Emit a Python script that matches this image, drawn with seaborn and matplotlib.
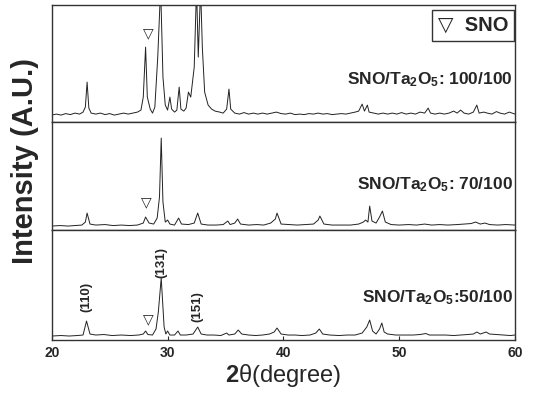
import numpy as np
import pandas as pd
import matplotlib
matplotlib.use('Agg')
import matplotlib.pyplot as plt
import seaborn as sns

# XRD traces (2-theta in degrees, intensity as pixel rise above baseline)
tt_100 = [20, 20.4, 20.8, 21.2, 21.6, 22, 22.4, 22.7, 22.9, 23.05, 23.2, 23.4, 23.8, 24.2, 24.6, 25, 25.4,
          25.8, 26.2, 26.6, 27, 27.4, 27.7, 27.9, 28.1, 28.25, 28.5, 28.7, 28.9, 29.15, 29.4, 29.6, 29.8,
          30.0, 30.2, 30.35, 30.6, 30.8, 31.0, 31.15, 31.4, 31.6, 31.8, 32.0, 32.3, 32.5, 32.65, 32.85,
          33.0, 33.2, 33.5, 33.8, 34.1, 34.5, 34.8, 35.1, 35.3, 35.45, 35.8, 36.2, 36.6, 37, 37.4, 37.8,
          38.2, 38.6, 39, 39.4, 39.8, 40.2, 40.6, 41, 41.4, 41.8, 42.2, 42.6, 43, 43.4, 43.8, 44.2, 44.6,
          45, 45.4, 45.8, 46.2, 46.5, 46.8, 47.0, 47.25, 47.4, 47.8, 48.2, 48.6, 49, 49.4, 49.8, 50.2,
          50.6, 51, 51.4, 51.8, 52.2, 52.5, 52.7, 53.1, 53.5, 53.9, 54.3, 54.7, 55, 55.3, 55.6, 56, 56.4,
          56.7, 56.9, 57.3, 57.6, 58, 58.4, 58.7, 59.1, 59.5, 60]
int_100 = [2, 3, 2, 3.5, 2.5, 4, 3, 5, 10, 35, 9, 4, 3, 4, 2.5, 3.5, 2,
           3, 4, 3, 4, 5, 7, 20, 70, 20, 8, 4, 10, 60, 130, 40, 12,
           7, 20, 8, 5, 7, 30, 8, 6, 9, 25, 20, 50, 130, 60, 130,
           70, 25, 12, 8, 6, 5, 4, 8, 28, 8, 4, 3, 4.5, 3, 4, 3,
           4, 3, 4, 5, 3.5, 3, 4, 2.5, 3, 2.5, 3.5, 3, 4, 3, 3.5, 2.5, 3,
           3.5, 3, 4, 5, 6, 13, 6, 12, 5, 4, 3, 4, 3, 4, 3, 4.5,
           3, 4, 3, 5, 4, 9, 4, 3, 4, 3, 4, 6, 4, 7, 4, 3, 5,
           12, 4, 5, 4, 3, 5.5, 4, 3, 5, 3]

tt_70 = [20, 20.7, 21.4, 22, 22.6, 22.9, 23.05, 23.3, 23.8, 24.6, 25.3, 26, 26.7, 27.4, 27.9, 28.1, 28.4,
         28.8, 29.1, 29.3, 29.45, 29.6, 29.8, 30.0, 30.2, 30.6, 30.95, 31.2, 31.8, 32.3, 32.6, 32.9, 33.5,
         34.2, 34.8, 35.2, 35.4, 35.8, 36.05, 36.3, 37, 37.7, 38.3, 38.9, 39.3, 39.45, 39.8, 40.5, 41.2,
         41.9, 42.6, 43.0, 43.15, 43.5, 44.2, 45, 45.8, 46.5, 46.9, 47.1, 47.3, 47.45, 47.65, 48.0, 48.3,
         48.55, 48.8, 49.3, 50, 50.8, 51.5, 52.2, 52.8, 53.5, 54.2, 55, 55.6, 56.2, 56.6, 57, 57.4, 57.8,
         58.5, 59.2, 60]
int_70 = [1, 1.5, 1, 1.5, 2, 5, 14, 3, 2, 2.5, 1.5, 2, 1.5, 2, 4, 10, 4,
          3, 9, 30, 89, 25, 5, 7, 3, 2, 9, 3, 2.5, 4, 14, 3, 2,
          2, 2.5, 6, 2.5, 4, 8, 3, 2, 2.5, 2, 4, 8, 14, 3, 2.5, 2,
          2.5, 3, 7, 11, 3, 2, 2, 2, 3, 5, 7, 5, 21, 6, 4, 10,
          16, 5, 2.5, 2, 2.5, 2, 3, 2, 2.5, 2, 2.5, 3, 3.5, 5, 3, 4, 2.5,
          2, 2.5, 2]

tt_50 = [20.0, 20.8, 21.5, 22.2, 22.7, 23.0, 23.3, 23.8, 24.5, 25.2, 26, 26.8, 27.5, 27.9, 28.1, 28.3,
         28.7, 29.0, 29.2, 29.45, 29.7, 29.85, 30.0, 30.2, 30.6, 30.9, 31.1, 31.6, 32.2, 32.6, 32.9, 33.4,
         34, 34.6, 35.1, 35.3, 35.8, 36.1, 36.4, 37, 37.6, 38.2, 38.8, 39.2, 39.45, 39.8, 40.4, 41, 41.6,
         42.3, 42.8, 43.1, 43.4, 44, 44.8, 45.5, 46.2, 46.8, 47.2, 47.45, 47.7, 48.0, 48.3, 48.5, 48.7,
         49, 49.7, 50.4, 51.2, 51.8, 52.3, 52.6, 53.3, 54, 54.7, 55.3, 55.9, 56.4, 56.7, 57.0, 57.5, 57.8,
         58.4, 59, 59.6, 60]
int_50 = [1, 1.5, 1, 1.5, 2, 16, 3, 2, 2.5, 1.5, 2, 1.5, 2, 3, 6, 2.5,
          2, 8, 25, 59, 10, 3, 6, 2, 2, 6, 2, 2, 3, 10, 3, 2,
          2, 1.5, 4, 2, 3, 7, 3, 2, 1.5, 2, 3, 5, 9, 3, 2, 2, 1.5,
          2, 4, 8, 3, 2, 1.5, 2, 2, 4, 10, 17, 6, 3, 8, 14, 5,
          3, 2, 2, 2, 2.5, 3.5, 2, 2, 2, 1.5, 2, 2.5, 3, 5, 3, 5, 3,
          2.5, 2, 1.5, 2]

sample_labels = ['SNO/Ta$_{\\mathbf{2}}$O$_{\\mathbf{5}}$: 100/100',
                 'SNO/Ta$_{\\mathbf{2}}$O$_{\\mathbf{5}}$: 70/100',
                 'SNO/Ta$_{\\mathbf{2}}$O$_{\\mathbf{5}}$:50/100']
sno_marks = [(28.3, 84), (28.2, 25), (28.3, 18)]   # (2theta, height) of the triangle per panel
hkl_labels = ['(110)', '(131)', '(151)']
hkl_pos = [(23.0, 40), (29.5, 75), (32.6, 30)]

sns.set_style('ticks')
plt.rcParams['font.family'] = ['Liberation Sans', 'DejaVu Sans']
plt.rcParams['mathtext.fontset'] = 'custom'
plt.rcParams['mathtext.rm'] = 'Liberation Sans'
plt.rcParams['mathtext.bf'] = 'Liberation Sans:bold'
plt.rcParams['mathtext.it'] = 'Liberation Sans:italic'

fig, axes = plt.subplots(3, 1, figsize=(5.45, 3.94), dpi=100, sharex=True,
                         gridspec_kw={'height_ratios': [117, 108, 110], 'hspace': 0})
fig.subplots_adjust(left=0.095, right=0.945, top=0.987, bottom=0.137)

traces = [(tt_100, int_100), (tt_70, int_70), (tt_50, int_50)]
ylims = [(-5, 112), (-3, 105), (-3, 107)]
label_y = [37, 42, 39]

for i, ax in enumerate(axes):
    df = pd.DataFrame({'two_theta': traces[i][0], 'intensity': traces[i][1]})
    sns.lineplot(data=df, x='two_theta', y='intensity', ax=ax, color='#222222', lw=0.7, estimator=None)
    ax.set_xlim(20, 60)
    ax.set_ylim(*ylims[i])
    ax.set_yticks([])
    ax.set_ylabel('')
    ax.set_xlabel('')
    for s in ax.spines.values():
        s.set_linewidth(1.0)
        s.set_color('#333333')
    ax.text(59.8, label_y[i], sample_labels[i], ha='right', va='center',
            fontsize=12.5, fontweight='bold')
    ax.text(sno_marks[i][0], sno_marks[i][1], '\u25bd', ha='center', va='center',
            fontsize=10, family=['DejaVu Sans'])
    if i < 2:
        ax.tick_params(axis='x', bottom=False, labelbottom=False)

# Miller indices on the bottom trace
for lab, (x, y) in zip(hkl_labels, hkl_pos):
    axes[2].text(x, y, lab, rotation=90, ha='center', va='center', fontsize=9.5, fontweight='bold')

# legend box
axes[0].text(0.985, 0.91, '\u25bd  SNO', transform=axes[0].transAxes, ha='right', va='top',
             fontsize=14.5, fontweight='bold', family=['Liberation Sans', 'DejaVu Sans'],
             bbox=dict(boxstyle='square,pad=0.3', fc='white', ec='#333333', lw=1.0))

axes[2].set_xticks([20, 30, 40, 50, 60])
axes[2].tick_params(axis='x', direction='in', length=3, labelsize=10, pad=4)
for t in axes[2].get_xticklabels():
    t.set_fontweight('bold')
axes[2].set_xlabel('$\\mathbf{2}$\u03b8(degree)', fontsize=17, labelpad=2)

fig.text(0.046, 0.592, 'Intensity (A.U.)', rotation=90, ha='center', va='center',
         fontsize=21, fontweight='bold')

plt.savefig('out.png', dpi=100)
